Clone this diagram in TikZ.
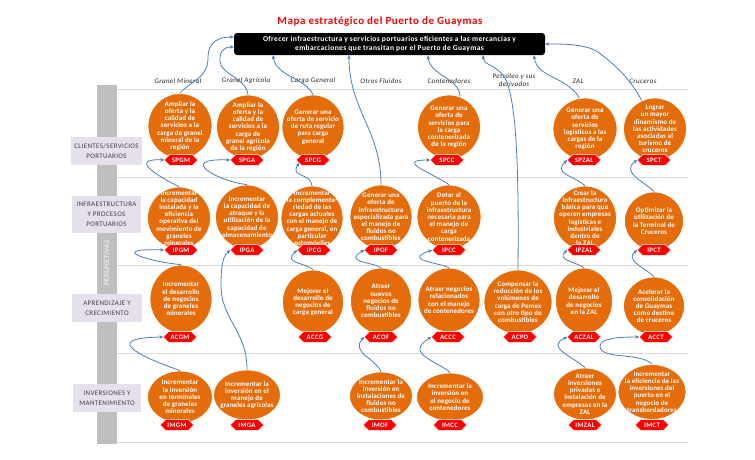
\documentclass[tikz,border=0pt]{standalone}
\usepackage{fontspec}
\setmainfont{Carlito}[LetterSpace=5]
\usetikzlibrary{arrows.meta,shapes.geometric,shapes.misc}
\definecolor{orng}{HTML}{E46C0A}
\definecolor{lnkb}{HTML}{4A7EBB}
\definecolor{barg}{HTML}{BFBFBF}
\definecolor{gridg}{HTML}{D9D9D9}
\definecolor{lbox}{HTML}{E6E0EC}
\definecolor{lbtxt}{HTML}{404040}
\definecolor{hdrtxt}{HTML}{262626}

\begin{document}
\begin{tikzpicture}[x=1pt,y=1pt,
 obj/.style={ellipse,fill=orng,draw=white,line width=.8pt,inner sep=-14pt,text=white,align=center,font=\fontsize{7}{7.2}\selectfont\bfseries\addfontfeature{LetterSpace=1.5}},
 idtag/.style={chamfered rectangle,chamfered rectangle xsep=2pt,fill=red,draw=white,line width=.4pt,inner sep=0pt,minimum width=33pt,minimum height=9.5pt,text=white,font=\fontsize{6.8}{7}\selectfont\bfseries},
 lnk/.style={draw=lnkb,line width=.8pt,-{Stealth[length=4pt,width=3.5pt]}},
 persp/.style={fill=lbox,text=lbtxt,align=center,inner sep=1pt,font=\fontsize{7}{10}\selectfont},
 hdr/.style={text=hdrtxt,align=center,font=\fontsize{7}{8.5}\selectfont\itshape}]
\path[use as bounding box,fill=white] (0,0) rectangle (755,-459);
% frame of the perspectives
\fill[barg] (97,-85) rectangle (117,-444);
\foreach \y in {-89,-177,-265,-353,-442} \draw[gridg,line width=.8pt] (117,\y) -- (688,\y);
\node[rotate=90,text=white,font=\fontsize{7}{8}\selectfont] (pv) at (107,-263) {PERSPECTIVAS};
\node[persp,minimum width=71pt,minimum height=28pt] (l-cli) at (106.5,-151) {CLIENTES/SERVICIOS\\PORTUARIOS};
\node[persp,minimum width=69pt,minimum height=37pt] (l-inf) at (106.5,-214.5) {INFRAESTRUCTURA\\Y PROCESOS\\PORTUARIOS};
\node[persp,minimum width=70pt,minimum height=28pt] (l-apr) at (107,-308) {APRENDIZAJE Y\\CRECIMIENTO};
\node[persp,minimum width=68pt,minimum height=28pt] (l-inv) at (107,-398) {INVERSIONES Y\\MANTENIMIENTO};
% title and mission
\node[text=red,font=\fontsize{11}{13}\selectfont\bfseries] (title) at (380,-22) {Mapa estratégico del Puerto de Guaymas};
\node[fill=black,rounded corners=3pt,minimum width=311pt,minimum height=22pt,inner sep=1pt,text=white,align=center,font=\fontsize{7.5}{9.5}\selectfont\bfseries] (mis) at (389.5,-44) {Ofrecer infraestructura y servicios portuarios eficientes a las mercancías y\\embarcaciones que transitan por el Puerto de Guaymas};
% column heads
\node[hdr] (h-gm) at (178,-81) {Granel Mineral};
\node[hdr] (h-ga) at (246,-81) {Granel Agrícola};
\node[hdr] (h-cg) at (313,-81) {Carga General};
\node[hdr] (h-of) at (381,-81) {Otros Fluidos};
\node[hdr] (h-cc) at (449,-81) {Contenedores};
\node[hdr] (h-pd) at (514,-80) {Petróleo y sus\\derivados};
\node[hdr] (h-zal) at (578,-81) {ZAL};
\node[hdr] (h-ct) at (643,-81) {Cruceros};
% clientes
\node[obj,minimum width=64pt,minimum height=65pt] (spgm) at (180,-126) {Ampliar la\\oferta y la\\calidad de\\servicios a la\\carga de granel\\mineral de la\\región};
\node[obj,minimum width=63pt,minimum height=64pt] (spga) at (248,-127) {Ampliar la\\oferta y la\\calidad de\\servicios a la\\carga de\\granel agrícola\\de la región};
\node[obj,minimum width=62pt,minimum height=64pt] (spcg) at (313,-127) {Generar una\\oferta de servicio\\de ruta regular\\para carga\\general};
\node[obj,minimum width=63pt,minimum height=64pt] (spcc) at (449,-127) {Generar una\\oferta de\\servicios para\\la carga\\contenerizada\\de la región};
\node[obj,minimum width=64pt,minimum height=62pt] (spzal) at (585,-129) {Generar una\\oferta de\\servicios\\logísticos a las\\cargas de la\\región};
\node[obj,minimum width=63pt,minimum height=62pt] (spct) at (655,-129) {Lograr\\un mayor\\dinamismo de\\las actividades\\asociadas al\\turismo de\\cruceros};
% infraestructura
\node[obj,minimum width=63pt,minimum height=62pt] (ipgm) at (179,-218) {Incrementar\\la capacidad\\instalada y la\\eficiencia\\operativa del\\movimiento de\\graneles\\minerales};
\node[obj,minimum width=63pt,minimum height=64pt] (ipga) at (247,-217) {Incrementar\\la capacidad de\\atraque y la\\utilización de la\\capacidad de\\almacenamiento};
\node[obj,minimum width=62pt,minimum height=64pt] (ipcg) at (312,-218) {Incrementar\\la complementa-\\riedad de las\\cargas actuales\\con el manejo de\\carga general, en\\particular\\automóviles};
\node[obj,minimum width=62pt,minimum height=64pt] (ipof) at (381,-217) {Generar una\\oferta de\\infraestructura\\especializada para\\el manejo de\\fluidos no\\combustibles};
\node[obj,minimum width=64pt,minimum height=64pt] (ipcc) at (449,-217) {Dotar al\\puerto de la\\infraestructura\\necesaria para\\el manejo de\\carga\\contenerizada};
\node[obj,minimum width=63pt,minimum height=64pt] (ipzal) at (585,-218) {Crear la\\infraestructura\\básica para que\\operen empresas\\logísticas e\\industriales\\dentro de\\la ZAL};
\node[obj,minimum width=59pt,minimum height=58pt] (ipct) at (654,-221) {Optimizar la\\utilización de\\la Terminal de\\Cruceros};
% aprendizaje
\node[obj,minimum width=62pt,minimum height=68pt] (acgm) at (181,-299) {Incrementar\\el desarrollo\\de negocios\\de graneles\\minerales};
\node[obj,minimum width=61pt,minimum height=64pt] (accg) at (313,-302) {Mejorar el\\desarrollo de\\negocios de\\carga general};
\node[obj,minimum width=61pt,minimum height=66pt] (acof) at (381,-301) {Atraer\\nuevos\\negocios de\\fluidos no\\combustibles};
\node[obj,minimum width=62pt,minimum height=64pt] (accc) at (449,-300) {Atraer negocios\\relacionados\\con el manejo\\de contenedores};
\node[obj,minimum width=68pt,minimum height=64pt] (acpd) at (518,-302) {Compensar la\\reducción de los\\volúmenes de\\carga de Pemex\\con otro tipo de\\combustibles};
\node[obj,minimum width=57pt,minimum height=66pt] (aczal) at (584,-301) {Mejorar el\\desarrollo\\de negocios\\en la ZAL};
\node[obj,minimum width=61pt,minimum height=58pt] (acct) at (654,-306) {Acelerar la\\consolidación\\de Guaymas\\como destino\\de cruceros};
% inversiones
\node[obj,minimum width=65pt,minimum height=52pt] (imgm) at (180,-397) {Incrementar\\la inversión\\en terminales\\de graneles\\minerales};
\node[obj,minimum width=67pt,minimum height=50pt] (imga) at (247,-395) {Incrementar la\\inversión en el\\manejo de\\graneles agrícolas};
\node[obj,minimum width=63pt,minimum height=48pt] (imof) at (381,-396) {Incrementar la\\inversión en\\instalaciones de\\fluidos no\\combustibles};
\node[obj,minimum width=67pt,minimum height=48pt] (imcc) at (450,-397) {Incrementar la\\inversión en\\el negocio de\\contenedores};
\node[obj,minimum width=63pt,minimum height=52pt] (imzal) at (585,-394) {Atraer\\inversiones\\privadas e\\instalación de\\empresas en la\\ZAL};
\node[obj,minimum width=68pt,minimum height=55pt] (imct) at (652,-392) {Incrementar\\la eficiencia de las\\inversiones del\\puerto en el\\negocio de\\transbordadores};
% codes
\foreach \n/\l/\x/\y in {spgm/SPGM/181/-160,spga/SPGA/247/-160,spcg/SPCG/313/-160,spcc/SPCC/447/-160,spzal/SPZAL/584/-160,spct/SPCT/654/-160,
 ipgm/IPGM/181/-250,ipga/IPGA/247/-250,ipcg/IPCG/314/-250,ipof/IPOF/381/-250,ipcc/IPCC/449/-250,ipzal/IPZAL/584/-250,ipct/IPCT/654/-250,
 acgm/ACGM/180/-337,accg/ACCG/315/-337,acof/ACOF/381/-337,accc/ACCC/448/-337,acpd/ACPD/520/-337,aczal/ACZAL/584/-337,acct/ACCT/656/-337,
 imgm/IMGM/177/-425,imga/IMGA/247/-425,imof/IMOF/380/-425,imcc/IMCC/450/-425,imzal/IMZAL/585/-425,imct/IMCT/652/-425}
 \node[idtag] (\n-t) at (\x,\y) {\l};
% links to the mission
\draw[lnk] (spgm.north) .. controls (192,-80) and (208,-78) .. (208,-58) .. controls (208,-42) and (218,-37) .. ([yshift=7pt]mis.west);
\draw[lnk] (spga.north) .. controls (246,-78) and (221,-74) .. (220,-62) .. controls (219,-51) and (224,-47) .. ([yshift=-3pt]mis.west);
\draw[lnk] (spcg.north) .. controls (305,-78) and (276,-76) .. (mis.south -| 273,0);
\draw[lnk] (ipof.north) .. controls (381,-130) and (349,-110) .. (mis.south -| 349,0);
\draw[lnk] (spcc.70) .. controls (460,-78) and (430,-76) .. (mis.south -| 428,0);
\draw[lnk] (acpd.north) .. controls (519,-160) and (516,-100) .. (505,-78) .. controls (496,-64) and (484,-66) .. (mis.south -| 483,0);
\draw[lnk] (spzal.100) .. controls (566,-76) and (537,-78) .. (mis.south -| 534,0);
\draw[lnk] (spct.115) .. controls (630,-78) and (614,-64) .. (598,-52) .. controls (585,-44) and (565,-44) .. (mis.east);
% infraestructura -> clientes
\draw[lnk] (ipgm.north) .. controls (165,-180) and (125,-158) .. (spgm-t.west);
\draw[lnk] (ipga.north) .. controls (220,-182) and (175,-158) .. (spga-t.west);
\draw[lnk] (ipcg.north) .. controls (310,-172) and (290,-178) .. (spcg-t.south west);
\draw[lnk] (ipcc.north) .. controls (430,-172) and (395,-160) .. (spcc-t.west);
\draw[lnk] (ipzal.north) .. controls (575,-176) and (552,-174) .. (spzal-t.west);
\draw[lnk] (ipct.north) .. controls (645,-182) and (620,-172) .. (spct-t.west);
% aprendizaje -> infraestructura
\draw[lnk] (acgm.north) .. controls (150,-262) and (105,-248) .. (ipgm-t.west);
\draw[lnk] (imga.north) .. controls (247,-330) and (221,-320) .. (221,-285) .. controls (221,-262) and (224,-255) .. (ipga-t.west);
\draw[lnk] (accg.north) .. controls (305,-262) and (282,-264) .. (ipcg-t.west);
\draw[lnk] (acof.north) .. controls (372,-262) and (343,-262) .. (ipof-t.west);
\draw[lnk] (accc.north) .. controls (436,-262) and (403,-260) .. (ipcc-t.west);
\draw[lnk] (aczal.north) .. controls (576,-262) and (556,-260) .. (ipzal-t.west);
\draw[lnk] (acct.north) .. controls (645,-268) and (624,-260) .. (ipct-t.west);
% inversiones -> aprendizaje
\draw[lnk] (imgm.north) .. controls (150,-360) and (95,-338) .. (acgm-t.west);
\draw[lnk] (imof.north) .. controls (375,-358) and (350,-352) .. (acof-t.west);
\draw[lnk] (imcc.north) .. controls (440,-362) and (403,-354) .. (accc-t.west);
\draw[lnk] (imzal.north) .. controls (572,-356) and (545,-347) .. (aczal-t.west);
\draw[lnk] (imct.north) .. controls (640,-352) and (600,-360) .. (600,-346) .. controls (600,-338) and (620,-337) .. (acct-t.west);
\end{tikzpicture}
\end{document}
